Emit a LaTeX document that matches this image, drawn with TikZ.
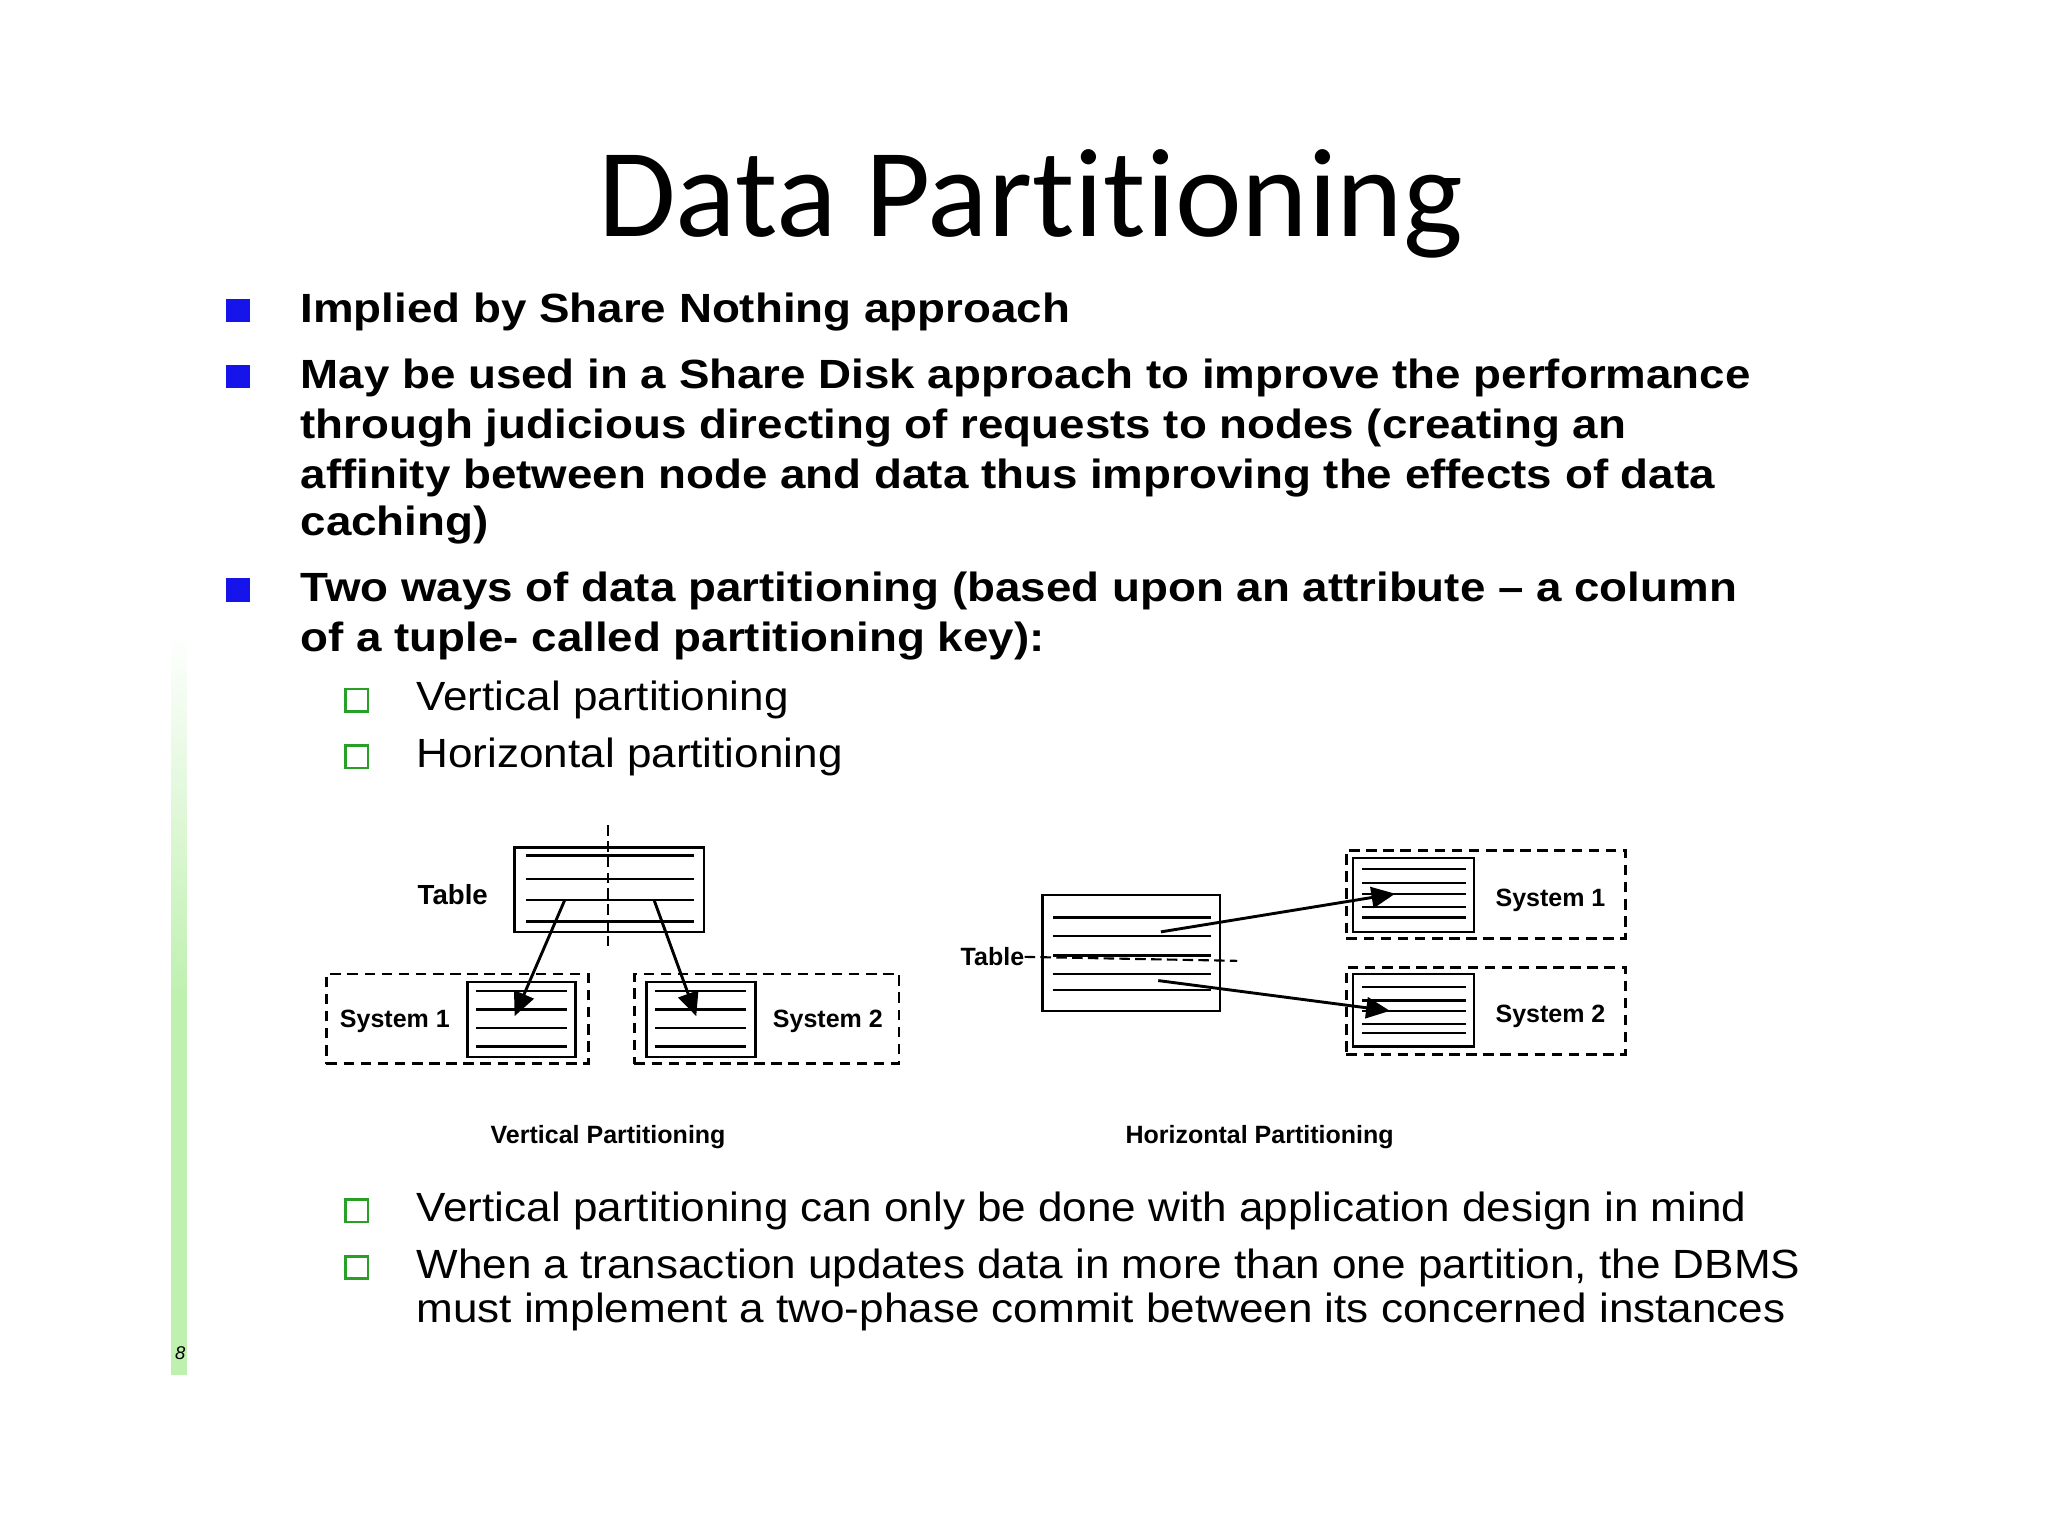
\documentclass[tikz,border=0pt]{standalone}
\usepackage{fontspec}
\setmainfont{Liberation Sans}
\newfontfamily\titlefont[Ligatures=NoCommon]{Carlito}
\newfontfamily\widebold[FakeStretch=1.12,BoldFont={Liberation Sans Bold}]{Liberation Sans Bold}
\newfontfamily\widereg[FakeStretch=1.08]{Liberation Sans}
\usetikzlibrary{arrows.meta}
\definecolor{bulblue}{RGB}{20,20,235}
\definecolor{bulgreen}{RGB}{40,160,40}
\definecolor{stripe}{RGB}{190,240,175}
\tikzset{
  tbl/.style={draw, line width=1pt, inner sep=0pt},
  dbox/.style={draw, dashed, dash pattern=on 4pt off 2.5pt, line width=1pt, inner sep=0pt},
  rowline/.style={line width=0.9pt},
  arr/.style={line width=1.1pt, -{Triangle[length=9pt,width=8pt]}},
  mainb/.style={anchor=west, inner sep=0pt, font=\widebold\fontsize{15.5}{18}\selectfont},
  subb/.style={anchor=west, inner sep=0pt, font=\widereg\fontsize{15.5}{18}\selectfont},
  blueb/.style={fill=bulblue, minimum size=9pt, inner sep=0pt},
  greenb/.style={draw=bulgreen, line width=1pt, minimum size=8.5pt, inner sep=0pt},
  lab/.style={inner sep=0pt, font=\fontsize{9.5}{11}\selectfont\bfseries},
  captext/.style={inner sep=0pt, font=\fontsize{9.5}{11}\selectfont\bfseries}
}
\begin{document}
\begin{tikzpicture}[x=0.5pt,y=-0.5pt]
\useasboundingbox (0,0) rectangle (1556,1167);
\fill[white] (0,0) rectangle (1556,1167);
% stripe
\shade[top color=white, bottom color=stripe] (130,480) rectangle (142,760);
\fill[stripe] (130,760) rectangle (142,1045);
\node[inner sep=0pt, font=\fontsize{7}{8}\selectfont\itshape] (pg) at (137,1028) {8};
% title
\node[inner sep=0pt, font=\titlefont\fontsize{48}{50}\selectfont] (title) at (783,155) {Data Partitioning};
% main bullets
\node[blueb] (b1) at (181,236) {};
\node[mainb] (t1) at (228,237) {Implied by Share Nothing approach};
\node[blueb] (b2) at (181,286) {};
\node[mainb] (t2a) at (228,287) {May be used in a Share Disk approach to improve the performance};
\node[mainb] (t2b) at (228,325) {through judicious directing of requests to nodes (creating an};
\node[mainb] (t2c) at (228,363) {affinity between node and data thus improving the effects of data};
\node[mainb] (t2d) at (228,399) {caching)};
\node[blueb] (b3) at (181,448) {};
\node[mainb] (t3a) at (228,449) {Two ways of data partitioning (based upon an attribute – a column};
\node[mainb] (t3b) at (228,487) {of a tuple- called partitioning key):};
\node[greenb] (g1) at (271,532) {};
\node[subb] (s1) at (316,532) {Vertical partitioning};
\node[greenb] (g2) at (271,575) {};
\node[subb] (s2) at (316,575) {Horizontal partitioning};
\node[greenb] (g3) at (271,920) {};
\node[subb] (s3) at (316,920) {Vertical partitioning can only be done with application design in mind};
\node[greenb] (g4) at (271,963) {};
\node[subb] (s4a) at (316,963) {When a transaction updates data in more than one partition, the DBMS};
\node[subb] (s4b) at (316,997) {must implement a two-phase commit between its concerned instances};
% ---------- vertical partitioning ----------
\node[tbl, minimum width=72pt, minimum height=32pt] (vt) at (463,676) {};
\foreach \y in {650,668,684,700} \draw[rowline] (400,\y) -- (527,\y);
\draw[dashed, dash pattern=on 4pt off 2pt, line width=0.8pt] (462,627) -- (462,722);
\node[lab, font=\fontsize{10.5}{12}\selectfont\bfseries] (vtl) at (344,680) {Table};
\node[dbox, minimum width=99.5pt, minimum height=34pt] (vs1) at (347.5,774) {};
\node[tbl, minimum width=41pt, minimum height=28.5pt] (vs1t) at (396,774.5) {};
\foreach \y in {753,767,781,795} \draw[rowline] (362,\y) -- (431,\y);
\node[lab] (vs1l) at (300,776) {System 1};
\node[dbox, minimum width=100.5pt, minimum height=34pt] (vs2) at (582.5,774) {};
\node[tbl, minimum width=41.5pt, minimum height=28.5pt] (vs2t) at (532.5,774.5) {};
\foreach \y in {753,767,781,795} \draw[rowline] (498,\y) -- (567,\y);
\node[lab] (vs2l) at (629,776) {System 2};
\coordinate (va1) at (429,684);
\coordinate (vb1) at (391,772);
\coordinate (va2) at (497,684);
\coordinate (vb2) at (529,772);
\draw[arr] (va1) -- (vb1);
\draw[arr] (va2) -- (vb2);
\node[captext] (vcap) at (462,864) {Vertical Partitioning};
% ---------- horizontal partitioning ----------
\node[tbl, minimum width=67.5pt, minimum height=44pt] (ht) at (859.5,724) {};
\foreach \y in {697,711,726,740,752} \draw[rowline] (800,\y) -- (920,\y);
\node[lab] (htl) at (754,727) {Table};
\draw[dashed, dash pattern=on 4pt off 2pt, line width=0.8pt] (htl.east) -- (940,730);
\node[dbox, minimum width=106pt, minimum height=33.5pt] (hs1) at (1129,679.5) {};
\node[tbl, minimum width=46pt, minimum height=28pt] (hs1t) at (1074,680) {};
\foreach \y in {660,671,679,689,697} \draw[rowline] (1035,\y) -- (1114,\y);
\node[lab] (hs1l) at (1178,684) {System 1};
\node[dbox, minimum width=106pt, minimum height=33pt] (hs2) at (1129,768) {};
\node[tbl, minimum width=46pt, minimum height=27.5pt] (hs2t) at (1074,767.5) {};
\foreach \y in {750,760,768,778,785} \draw[rowline] (1035,\y) -- (1114,\y);
\node[lab] (hs2l) at (1178,772) {System 2};
\coordinate (ha1) at (882,708);
\coordinate (hb1) at (1060,679);
\coordinate (ha2) at (880,745);
\coordinate (hb2) at (1056,768);
\draw[arr] (ha1) -- (hb1);
\draw[arr] (ha2) -- (hb2);
\node[captext] (hcap) at (957,864) {Horizontal Partitioning};
\end{tikzpicture}
\end{document}
